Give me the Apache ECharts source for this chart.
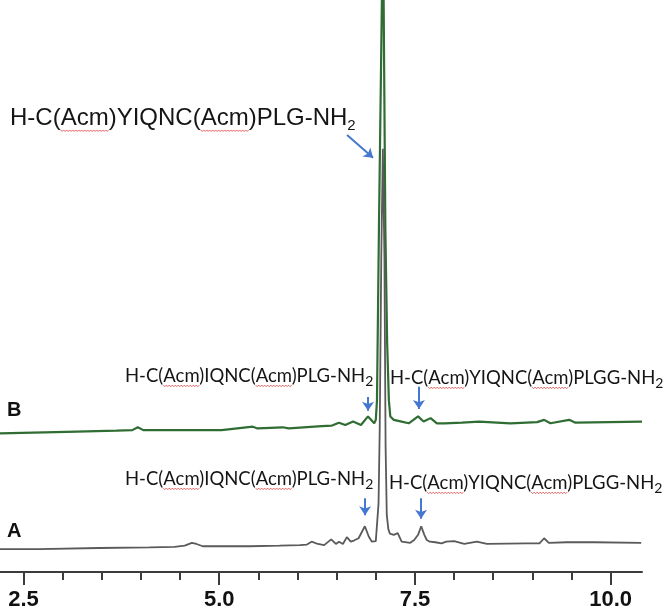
<!DOCTYPE html>
<html><head><meta charset="utf-8">
<script src="https://cdn.jsdelivr.net/npm/echarts@6/dist/echarts.min.js"></script>
<style>html,body{margin:0;padding:0;background:#fff}#c{width:666px;height:612px}</style>
</head><body><div id="c"></div>
<script>
// Retention time (min) and signal (arbitrary units, trace B includes its vertical offset)
const timesA = [2.20,2.70,3.47,4.11,4.43,4.56,4.65,4.71,4.79,5.03,5.39,5.77,6.03,6.12,6.18,6.26,6.34,6.43,6.49,6.53,6.58,6.63,6.68,6.72,6.78,6.86,6.91,6.95,7.00,7.035,7.05,7.07,7.09,7.11,7.125,7.14,7.16,7.18,7.23,7.28,7.33,7.44,7.49,7.54,7.58,7.62,7.65,7.69,7.76,7.84,7.90,8.00,8.13,8.29,8.42,8.93,9.09,9.15,9.21,9.44,9.79,10.39];
const signalA = [4.0,4.0,4.2,4.3,4.4,4.6,5.1,4.9,4.5,4.5,4.5,4.6,4.7,4.8,5.3,4.9,4.7,5.7,4.9,5.3,4.9,6.1,5.3,5.5,5.9,8.0,6.2,5.3,5.4,12,25,55,74,55,22,10,7.5,6.7,6.5,6.8,5.3,5.1,5.6,6.5,8.0,6.5,5.6,5.3,5.2,5.0,5.3,5.4,4.9,5.3,4.9,5.0,5.0,5.9,5.1,5.2,5.2,5.1];
const timesB = [2.20,3.05,3.69,3.89,3.96,4.03,5.03,5.43,5.49,5.81,5.89,6.31,6.44,6.53,6.61,6.71,6.81,6.90,6.98,7.00,7.015,7.04,7.078,7.09,7.10,7.122,7.145,7.167,7.185,7.23,7.33,7.42,7.54,7.61,7.70,7.78,7.88,8.10,8.32,8.72,9.06,9.15,9.23,9.47,9.55,10.40];
const signalB = [24.25,24.5,24.7,24.8,25.3,24.8,24.8,25.4,25.1,25.3,25.1,25.5,25.6,26.1,25.7,26.3,25.7,27.2,26.0,26.6,30,60,100,108,100,60,40,30,27.2,26.6,26.3,26.0,27.2,26.3,26.9,26.0,26.0,26.1,26.3,26.0,26.2,26.6,26.0,26.6,26.1,26.3];
const majorTicks = [2.5,5.0,7.5,10.0];
const minorTicks = [3.0,3.5,4.0,4.5,5.5,6.0,6.5,7.0,8.0,8.5,9.0,9.5];
const traceNames = ['A','B'];
const mainLabel = 'H-C(Acm)YIQNC(Acm)PLG-NH';
const labelShort = 'H-C(Acm)IQNC(Acm)PLG-NH';
const labelLong = 'H-C(Acm)YIQNC(Acm)PLGG-NH';
// arrows: [fromTime, fromSignal, toTime, toSignal]
const arrowsA = [[6.863,12.9,6.863,9.9],[7.578,12.9,7.578,9.3]];
const arrowsB = [[6.901,30.6,6.901,28.2],[7.551,32.4,7.551,28.5],[6.633,76.4,6.965,72.4]];

const zip = (t, v) => t.map((x, i) => [x, v[i]]);
const arrowColor = '#4677d0';
const toMarkLine = arr => ({
  silent: true, animation: false,
  symbol: ['none', 'arrow'], symbolSize: 9,
  label: {show: false},
  lineStyle: {color: arrowColor, width: 2, type: 'solid'},
  emphasis: {disabled: true},
  data: arr.map(a => [{coord: [a[0], a[1]]}, {coord: [a[2], a[3]]}])
});

const chart = echarts.init(document.getElementById('c'), null, {renderer: 'canvas'});

const ctx = document.createElement('canvas').getContext('2d');
function measure(txt, font) { ctx.font = font; return ctx.measureText(txt).width; }
const squiggleColor = '#e0393a';
function squiggles(text, left, cy, font, size) {
  const out = [];
  let idx = text.indexOf('Acm');
  while (idx >= 0) {
    const x0 = left + measure(text.slice(0, idx), font);
    const w = measure('Acm', font);
    const y = cy + size * 0.52;
    const pts = [];
    for (let x = 0, k = 0; x <= w; x += 1.5, k++) pts.push([x0 + x, y + (k % 2 ? 1 : -0.5)]);
    out.push({type: 'polyline', silent: true, shape: {points: pts}, style: {stroke: squiggleColor, lineWidth: 0.8, fill: null}});
    idx = text.indexOf('Acm', idx + 3);
  }
  return out;
}
function richLabel(text, left, cy, family, size, subSize, color) {
  return {
    type: 'text', x: left, y: cy, silent: true,
    style: {
      text: '{n|' + text + '}{s|2}', align: 'left', verticalAlign: 'middle', fill: color,
      rich: {
        n: {fontFamily: family, fontSize: size, lineHeight: size + 6, fill: color},
        s: {fontFamily: family, fontSize: subSize, lineHeight: size - 2, verticalAlign: 'bottom', fill: color}
      }
    }
  };
}
const calFam = 'Lato';
const calSize = 18.5;
const calFont = calSize + 'px ' + calFam;
const topFam = 'Liberation Sans';
const topFont = '24px ' + topFam;
const labels = [
  [mainLabel, 10, 118, topFam, 24, 15, topFont],
  [labelShort, 125, 376, calFam, calSize, 14, calFont],
  [labelLong, 390, 378, calFam, calSize, 14, calFont],
  [labelShort, 125, 479, calFam, calSize, 14, calFont],
  [labelLong, 389, 483, calFam, calSize, 14, calFont]
];
const graphics = [];
labels.forEach(l => {
  graphics.push(richLabel(l[0], l[1], l[2], l[3], l[4], l[5], '#151515'));
  squiggles(l[0], l[1], l[2], l[6], l[4]).forEach(g => graphics.push(g));
});
graphics.push({type: 'text', x: 7, y: 410, silent: true, style: {text: traceNames[1], font: 'bold 20px "Liberation Sans"', fill: '#111', verticalAlign: 'middle'}});
graphics.push({type: 'text', x: 7, y: 531, silent: true, style: {text: traceNames[0], font: 'bold 20px "Liberation Sans"', fill: '#111', verticalAlign: 'middle'}});

chart.setOption({
  animation: false,
  backgroundColor: '#ffffff',
  grid: {left: 0, right: 24, top: 0, bottom: 40, containLabel: false},
  xAxis: [{
    type: 'value', min: 2.2, max: 10.4, position: 'bottom',
    axisLine: {show: true, lineStyle: {color: '#3c3c3c', width: 2}},
    axisTick: {show: true, customValues: majorTicks, length: 13, lineStyle: {color: '#3c3c3c', width: 2}},
    axisLabel: {show: true, customValues: majorTicks, formatter: v => v.toFixed(1), margin: 17,
      fontFamily: 'Liberation Sans', fontWeight: 'bold', fontSize: 22, color: '#111'},
    splitLine: {show: false}
  }, {
    type: 'value', min: 2.2, max: 10.4, position: 'bottom', gridIndex: 0,
    axisLine: {show: false},
    axisTick: {show: true, customValues: minorTicks, length: 8, lineStyle: {color: '#3c3c3c', width: 2}},
    axisLabel: {show: false},
    splitLine: {show: false}
  }],
  yAxis: {type: 'value', min: 0, max: 100, show: false},
  series: [{
    name: 'B', type: 'line', data: zip(timesB, signalB), symbol: 'none', showSymbol: false,
    lineStyle: {color: '#2f6d33', width: 2.2}, z: 2, clip: true,
    markLine: toMarkLine(arrowsB)
  }, {
    name: 'A', type: 'line', data: zip(timesA, signalA), symbol: 'none', showSymbol: false,
    lineStyle: {color: '#5a5a5a', width: 1.8}, z: 3, clip: true,
    markLine: toMarkLine(arrowsA)
  }],
  graphic: graphics
});
</script></body></html>
